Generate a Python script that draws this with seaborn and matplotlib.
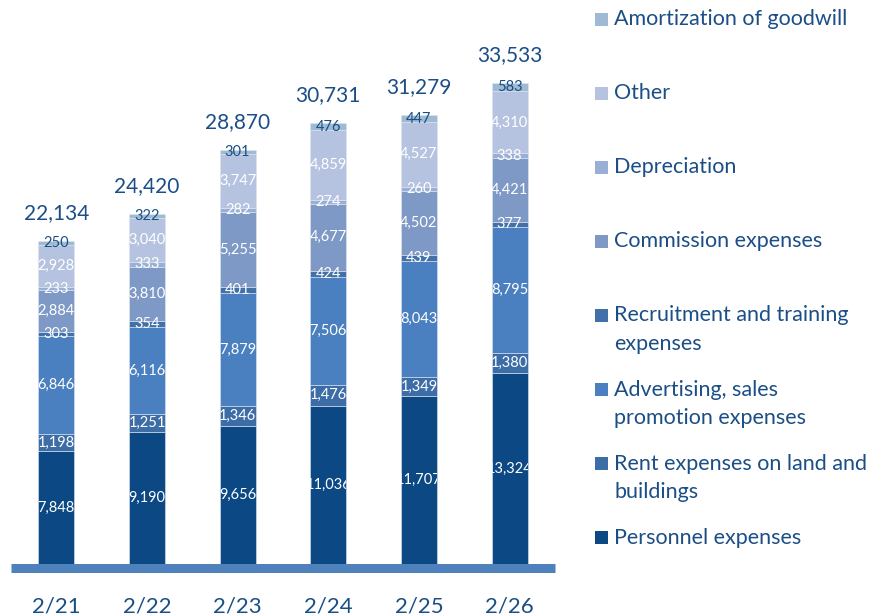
import numpy as np
import matplotlib.pyplot as plt
import seaborn as sns
from matplotlib.patches import Rectangle
from matplotlib.transforms import Bbox, TransformedBbox

periods = ["2/21", "2/22", "2/23", "2/24", "2/25", "2/26"]
personnel = [7848, 9190, 9656, 11036, 11707, 13324]
rent = [1198, 1251, 1346, 1476, 1349, 1380]
advertising = [6846, 6116, 7879, 7506, 8043, 8795]
recruitment = [303, 354, 401, 424, 439, 377]
commission = [2884, 3810, 5255, 4677, 4502, 4421]
depreciation = [233, 333, 282, 274, 260, 338]
other = [2928, 3040, 3747, 4859, 4527, 4310]
goodwill = [250, 322, 301, 476, 447, 583]
totals = [22134, 24420, 28870, 30731, 31279, 33533]

# bottom to top
series_names = [
    "Personnel expenses",
    "Rent expenses on land and\nbuildings",
    "Advertising, sales\npromotion expenses",
    "Recruitment and training\nexpenses",
    "Commission expenses",
    "Depreciation",
    "Other",
    "Amortization of goodwill",
]
series_values = [personnel, rent, advertising, recruitment,
                 commission, depreciation, other, goodwill]
colors = ["#0b4884", "#3d6da6", "#4a80c0", "#4270a9",
          "#7e99c6", "#9aafd6", "#b5c3e0", "#9ebbd3"]

TEXT_BLUE = "#1b4e86"
Y_TOP = 38000


def main():
    sns.set_theme(style="white")
    plt.rcParams["font.family"] = ["Lato", "DejaVu Sans"]

    fig = plt.figure(figsize=(8.81, 6.16), dpi=100)
    ax = fig.add_axes([11 / 881, 52 / 616, 544 / 881, 545 / 616])

    bottom = np.zeros(len(periods))
    for name, vals, color in zip(series_names, series_values, colors):
        sns.barplot(x=periods, y=vals, bottom=bottom, color=color, saturation=1,
                    width=0.4, errorbar=None, edgecolor="#dfe6f0", linewidth=0.4, ax=ax)
        bottom = bottom + np.array(vals)

    ax.set_xlim(-0.5, len(periods) - 0.5)
    ax.set_ylim(0, Y_TOP)

    # segment labels, clipped to the bar column like the original
    for cont, vals in zip(ax.containers, series_values):
        is_top = cont is ax.containers[-1]
        texts = ax.bar_label(cont, labels=[f"{v:,}" for v in vals], label_type="center",
                             color=TEXT_BLUE if is_top else "white", fontsize=10.5)
        for t, p in zip(texts, cont.patches):
            box = Bbox.from_extents(p.get_x(), 0, p.get_x() + p.get_width(), Y_TOP)
            t.set_clip_box(TransformedBbox(box, ax.transData))
            t.set_clip_on(True)

    # totals above each stack
    for p, tot in zip(ax.containers[-1].patches, totals):
        ax.annotate(f"{tot:,}", xy=(p.get_x() + p.get_width() / 2, p.get_y() + p.get_height()),
                    xytext=(0, 13), textcoords="offset points", ha="center", va="bottom",
                    fontsize=15, color=TEXT_BLUE, annotation_clip=False)

    for side in ["top", "left", "right"]:
        ax.spines[side].set_visible(False)
    spine = ax.spines["bottom"]
    spine.set_color("#4f81bd")
    spine.set_linewidth(6.5)
    spine.set_capstyle("butt")
    spine.set_position(("outward", 3.2))
    ax.set_yticks([])
    ax.set_ylabel("")
    ax.tick_params(axis="x", length=0, pad=20, labelsize=16, labelcolor=TEXT_BLUE)

    # legend, top entry first
    W, H = 881, 616
    step = 74.1
    for i, (name, color) in enumerate(zip(series_names[::-1], colors[::-1])):
        yc = 19 + i * step
        fig.add_artist(Rectangle((595 / W, 1 - (yc + 6.5) / H), 13 / W, 13 / H,
                                 transform=fig.transFigure, facecolor=color, edgecolor="none"))
        for j, line in enumerate(name.split("\n")):
            fig.text(614 / W, 1 - (yc + j * 28.5) / H, line, ha="left", va="center",
                     fontsize=15.5, color=TEXT_BLUE)

    fig.savefig("out.png", dpi=100, facecolor="white")


if __name__ == '__main__':
    main()
